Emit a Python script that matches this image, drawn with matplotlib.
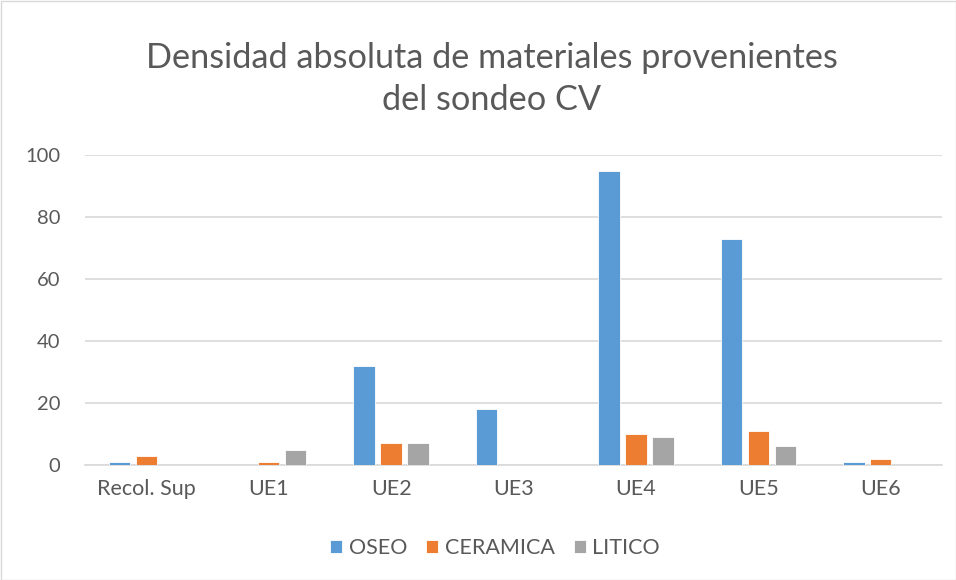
import matplotlib
matplotlib.use("Agg")
import matplotlib.pyplot as plt
import numpy as np

categories = ["Recol. Sup", "UE1", "UE2", "UE3", "UE4", "UE5", "UE6"]
oseo = [1, 0, 32, 18, 95, 73, 1]
ceramica = [3, 1, 7, 0, 10, 11, 2]
litico = [0, 5, 7, 0, 9, 6, 0]
series_names = ["OSEO", "CERAMICA", "LITICO"]
colors = ["#5B9BD5", "#ED7D31", "#A5A5A5"]

plt.rcParams['font.family'] = ['Lato', 'DejaVu Sans']
text_color = "#595959"

fig = plt.figure(figsize=(9.56, 5.8), dpi=100)
ax = fig.add_axes([85/956, 1-465/580, 857/956, 310/580])

x = np.arange(len(categories))
w = 0.175
step = 0.22
for i, (vals, name, c) in enumerate(zip([oseo, ceramica, litico], series_names, colors)):
    ax.bar(x + (i-1)*step, vals, width=w, color=c, label=name, zorder=3,
           edgecolor="white", linewidth=0.6)

ax.set_xlim(-0.5, len(categories)-0.5)
ax.set_ylim(0, 100)
ax.set_yticks(range(0, 101, 20))
ax.yaxis.grid(True, color="#D9D9D9", linewidth=1.2, zorder=0)
ax.set_axisbelow(True)
for s in ["top", "right", "left"]:
    ax.spines[s].set_visible(False)
ax.spines["bottom"].set_color("#D9D9D9")
ax.spines["bottom"].set_linewidth(1.2)
ax.tick_params(axis="x", length=0, labelsize=15.5, colors=text_color, pad=10)
ax.tick_params(axis="y", length=0, labelsize=14.5, colors=text_color, pad=18)
ax.set_xticks(x)
ax.set_xticklabels(categories)

fig.text(492/956, 1-58/580, "Densidad absoluta de materiales provenientes", ha="center", va="center",
         fontsize=24.7, color=text_color)
fig.text(492/956, 1-100/580, "del sondeo CV", ha="center", va="center",
         fontsize=24.7, color=text_color)

leg = fig.legend(loc="center", bbox_to_anchor=(495/956, 1-548/580), ncol=3, frameon=False,
                 fontsize=15.5, handlelength=0.55, handleheight=0.55, handletextpad=0.3,
                 columnspacing=0.9)
for t in leg.get_texts():
    t.set_color(text_color)

border = plt.Rectangle((0.5/956, 0.5/580), 1-1/956, 1-1/580, transform=fig.transFigure,
                       fill=False, edgecolor="#D9D9D9", linewidth=1)
fig.patches.append(border)

fig.savefig("out.png", dpi=100)
